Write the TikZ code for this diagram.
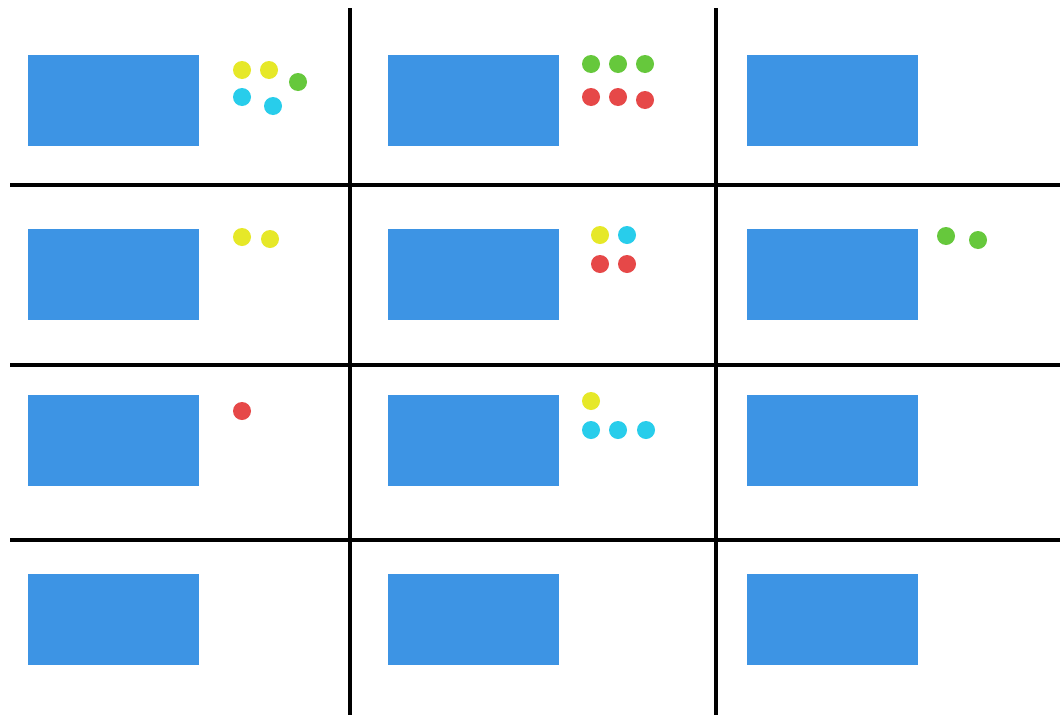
\documentclass[tikz,border=0pt]{standalone}
\usepackage{tikz}
\definecolor{panelblue}{RGB}{61,148,228}
\definecolor{dotyellow}{RGB}{230,232,40}
\definecolor{dotgreen}{RGB}{102,200,60}
\definecolor{dotcyan}{RGB}{40,205,235}
\definecolor{dotred}{RGB}{230,72,72}
\begin{document}
\begin{tikzpicture}[
  x=1pt,y=-1pt,
  panel/.style={fill=panelblue,inner sep=0pt,minimum width=171pt,minimum height=91pt},
  dot/.style={circle,inner sep=0pt,minimum size=18pt,fill=#1},
  gridline/.style={line width=4pt,black}
]
\useasboundingbox (0,0) rectangle (1060,715);
\fill[white] (0,0) rectangle (1060,715);
% panels, one per cell
\foreach \c/\x in {1/113.5,2/473.5,3/832.5}
  \foreach \r/\y in {1/100.5,2/274,3/440,4/619}
    \node[panel] (p\r\c) at (\x,\y) {};
% grid
\coordinate (h1w) at (10,185);  \coordinate (h1e) at (1060,185);
\coordinate (h2w) at (10,365);  \coordinate (h2e) at (1060,365);
\coordinate (h3w) at (10,540);  \coordinate (h3e) at (1060,540);
\coordinate (v1n) at (350,8);   \coordinate (v1s) at (350,715);
\coordinate (v2n) at (716,8);   \coordinate (v2s) at (716,715);
\draw[gridline] (h1w) -- (h1e);
\draw[gridline] (h2w) -- (h2e);
\draw[gridline] (h3w) -- (h3e);
\draw[gridline,line width=4.5pt] (v1n) -- (v1s);
\draw[gridline] (v2n) -- (v2s);
% dots
\node[dot=dotyellow] (d1) at (242,70) {};
\node[dot=dotyellow] (d2) at (269,70) {};
\node[dot=dotgreen] (d3) at (298,82) {};
\node[dot=dotcyan] (d4) at (242,97) {};
\node[dot=dotcyan] (d5) at (273,106) {};
\foreach \x [count=\i] in {591,618,645}
  \node[dot=dotgreen] (g\i) at (\x,64) {};
\node[dot=dotred] (r1) at (591,97) {};
\node[dot=dotred] (r2) at (618,97) {};
\node[dot=dotred] (r3) at (645,100) {};
\node[dot=dotyellow] (d6) at (242,237) {};
\node[dot=dotyellow] (d7) at (270,239) {};
\node[dot=dotyellow] (d8) at (600,235) {};
\node[dot=dotcyan] (d9) at (627,235) {};
\node[dot=dotred] (d10) at (600,264) {};
\node[dot=dotred] (d11) at (627,264) {};
\node[dot=dotgreen] (d12) at (946,236) {};
\node[dot=dotgreen] (d13) at (978,240) {};
\node[dot=dotred] (d14) at (242,411) {};
\node[dot=dotyellow] (d15) at (591,401) {};
\foreach \x [count=\i] in {591,618,646}
  \node[dot=dotcyan] (c\i) at (\x,430) {};
\end{tikzpicture}
\end{document}
